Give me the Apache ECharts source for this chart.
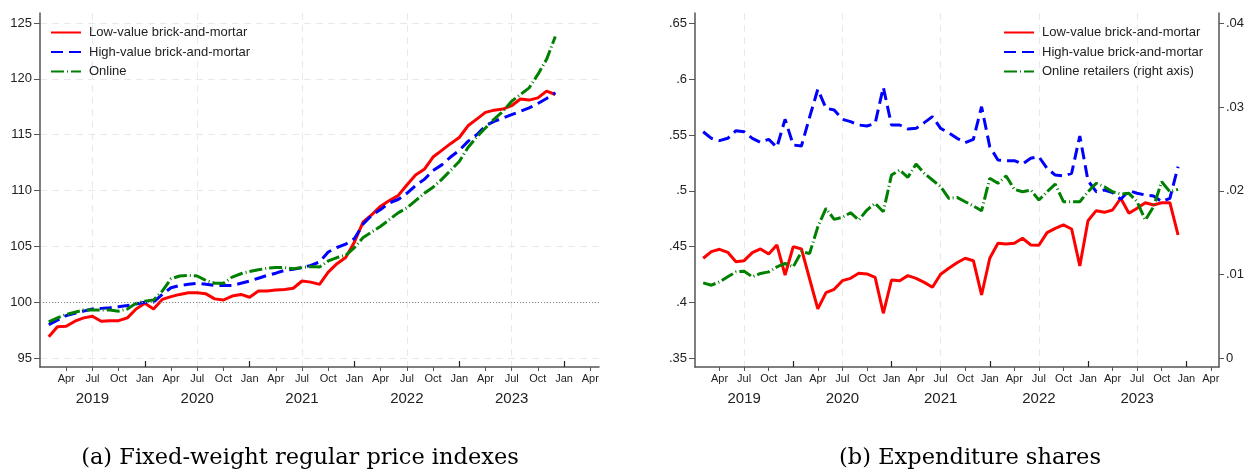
<!DOCTYPE html>
<html>
<head>
<meta charset="utf-8">
<script src="https://cdn.jsdelivr.net/npm/echarts@6/dist/echarts.min.js"></script>
<style>
  html, body { margin: 0; padding: 0; background: #fff; }
  #chart { width: 1248px; height: 472px; }
</style>
</head>
<body>
<div id="chart"></div>
<script>
// months covered by the data, Feb 2019 - Dec 2023
var months = [
  '2019-02','2019-03','2019-04','2019-05','2019-06','2019-07','2019-08','2019-09','2019-10','2019-11','2019-12',
  '2020-01','2020-02','2020-03','2020-04','2020-05','2020-06','2020-07','2020-08','2020-09','2020-10','2020-11','2020-12',
  '2021-01','2021-02','2021-03','2021-04','2021-05','2021-06','2021-07','2021-08','2021-09','2021-10','2021-11','2021-12',
  '2022-01','2022-02','2022-03','2022-04','2022-05','2022-06','2022-07','2022-08','2022-09','2022-10','2022-11','2022-12',
  '2023-01','2023-02','2023-03','2023-04','2023-05','2023-06','2023-07','2023-08','2023-09','2023-10','2023-11','2023-12'
];

// (a) price indexes
var lowIndex = [96.9,97.8,97.85,98.3,98.6,98.75,98.3,98.35,98.35,98.6,99.4,
  99.9,99.4,100.25,100.5,100.7,100.85,100.85,100.75,100.3,100.2,100.55,100.7,
  100.45,101.0,101.0,101.1,101.15,101.25,101.9,101.8,101.6,102.7,103.45,104.0,
  105.4,107.2,107.85,108.6,109.1,109.55,110.5,111.4,111.9,113.0,113.6,114.2,
  114.75,115.8,116.4,117.0,117.2,117.3,117.6,118.2,118.1,118.3,118.9,118.6];
var highIndex = [98.0,98.4,98.8,99.0,99.2,99.4,99.45,99.5,99.6,99.7,99.85,
  100.0,100.0,100.7,101.3,101.5,101.6,101.7,101.6,101.5,101.5,101.5,101.7,
  101.9,102.15,102.4,102.6,102.85,102.95,103.1,103.3,103.6,104.5,104.9,105.2,
  105.7,107.0,107.8,108.3,108.9,109.2,109.75,110.45,111.0,111.8,112.3,113.0,
  113.6,114.4,115.0,115.8,116.2,116.5,116.8,117.1,117.4,117.8,118.25,118.75];
var onlineIndex = [98.25,98.6,98.9,99.1,99.3,99.3,99.3,99.3,99.2,99.4,99.9,
  100.1,100.2,101.0,102.1,102.35,102.4,102.35,101.95,101.7,101.7,102.25,102.55,
  102.75,102.9,103.05,103.1,103.1,103.0,103.1,103.2,103.15,103.7,104.0,104.2,
  104.9,105.8,106.3,106.8,107.4,108.0,108.45,109.1,109.75,110.3,111.0,111.8,
  112.6,113.85,114.8,115.6,116.4,117.1,118.0,118.6,119.2,120.4,121.75,123.8];
var baseLine = 100;

// (b) expenditure shares
var lowShare = [0.4396,0.4455,0.4476,0.4449,0.4365,0.4374,0.4446,0.4479,0.4434,0.4515,0.4246,
  0.4500,0.4479,0.421,0.3942,0.4088,0.4118,0.4195,0.4216,0.4261,0.4255,0.4225,0.3903,
  0.4201,0.4195,0.4240,0.4216,0.4180,0.4136,0.4252,0.4306,0.4356,0.4396,0.4374,0.4067,
  0.4396,0.4530,0.4524,0.4530,0.4575,0.4515,0.4512,0.4625,0.4664,0.4694,0.4658,0.4327,
  0.4732,0.4822,0.4807,0.4828,0.4933,0.4799,0.4843,0.4893,0.4873,0.4893,0.4893,0.4604];
var highShare = [0.5529,0.5470,0.5449,0.5470,0.5538,0.5529,0.5470,0.5434,0.5461,0.5389,0.5640,
  0.5410,0.5401,0.566,0.5909,0.5739,0.5724,0.5640,0.5619,0.5589,0.5580,0.5604,0.5927,
  0.5589,0.5589,0.5553,0.5559,0.5610,0.5664,0.5559,0.5520,0.5470,0.5431,0.5461,0.5753,
  0.5395,0.5276,0.5270,0.5270,0.5240,0.5291,0.5305,0.5201,0.5141,0.5133,0.5157,0.5491,
  0.5090,0.4992,0.5007,0.4983,0.4924,0.5001,0.4978,0.4962,0.4953,0.4902,0.4933,0.5216];
var onlineShare = [0.00903,0.00875,0.00915,0.00975,0.01034,0.01042,0.00975,0.01015,0.01034,0.01094,0.01134,
  0.01094,0.01273,0.01254,0.01571,0.01791,0.01660,0.01684,0.01739,0.01651,0.01771,0.01851,0.01751,
  0.02189,0.02248,0.02161,0.02320,0.02209,0.02129,0.02049,0.01910,0.01922,0.01870,0.01819,0.01762,
  0.02149,0.02090,0.02177,0.02018,0.01989,0.02010,0.01890,0.01989,0.02081,0.01870,0.01870,0.01870,
  0.01989,0.02090,0.02049,0.01989,0.01962,0.01970,0.01870,0.01651,0.01810,0.02109,0.01989,0.02018];

// ticks (months counted from Jan 2019)
var quarterTicks = [3,6,9,12,15,18,21,24,27,30,33,36,39,42,45,48,51,54,57,60,63];
var janTicks = [12,24,36,48,60];
var yearTicks = [6,18,30,42,54];
var indexTicks = [95,100,105,110,115,120,125];
var shareTicks = [0.35,0.4,0.45,0.5,0.55,0.6,0.65];
var onlineTicks = [0,0.01,0.02,0.03,0.04];

var monthNames = ['Jan','Feb','Mar','Apr','May','Jun','Jul','Aug','Sep','Oct','Nov','Dec'];
function toIdx(s) {
  var p = s.split('-');
  return (+p[0] - 2019) * 12 + (+p[1] - 1);
}
function pairs(vals) {
  return vals.map(function (v, i) { return [toIdx(months[i]), v]; });
}
function stripZero(v) {
  var s = String(Math.round(v * 100) / 100);
  return s.replace(/^0\./, '.');
}

var font = 'Liberation Sans';
var axisCol = '#555';
var gridCol = '#e9e9e9';
var red = '#ff0000', blue = '#0000ff', green = '#008000';

function xAxes(grid) {
  return [
    { // month labels
      type: 'value', gridIndex: grid, min: 0, max: 64, position: 'bottom',
      axisLine: { show: true, onZero: false, lineStyle: { color: axisCol, width: 1.5 } },
      axisTick: { show: true, length: 4, lineStyle: { color: axisCol },
        customValues: quarterTicks.filter(function (m) { return m % 12 !== 0; }) },
      axisLabel: { customValues: quarterTicks, margin: 6, fontSize: 11, color: '#222', fontFamily: font,
        formatter: function (v) { return monthNames[Math.round(v) % 12]; } },
      splitLine: { show: false }
    },
    { // year boundaries, ticks inside
      type: 'value', gridIndex: grid, min: 0, max: 64, position: 'bottom',
      axisLine: { show: false, onZero: false },
      axisTick: { show: true, inside: true, length: 6, lineStyle: { color: '#222', width: 1.2 }, customValues: janTicks },
      axisLabel: { show: false },
      splitLine: { show: false }
    },
    { // year labels + Jul grid
      type: 'value', gridIndex: grid, min: 0, max: 64, position: 'bottom',
      axisLine: { show: false, onZero: false },
      axisTick: { show: false, customValues: yearTicks },
      axisLabel: { customValues: yearTicks, margin: 24, fontSize: 15, color: '#222', fontFamily: font,
        formatter: function (v) { return String(2019 + Math.floor(v / 12)); } },
      splitLine: { show: true, lineStyle: { color: gridCol, type: [7, 5], width: 1 } }
    }
  ];
}

function line(name, data, color, dash, xi, yi) {
  return {
    name: name, type: 'line', xAxisIndex: xi, yAxisIndex: yi,
    data: data, symbol: 'none', showSymbol: false,
    lineStyle: { color: color, width: 3, type: dash, cap: 'butt' },
    itemStyle: { color: color }
  };
}

var names = {
  low: 'Low-value brick-and-mortar',
  high: 'High-value brick-and-mortar',
  online: 'Online',
  onlineR: 'Online retailers (right axis)'
};
var dashed = [12, 6];
var dashDot = [13, 3, 1, 3];

var redLeft = line(names.low, pairs(lowIndex), red, 'solid', 0, 0);
redLeft.markLine = {
  silent: true, symbol: 'none', label: { show: false },
  lineStyle: { color: '#888', type: [1, 2], width: 1 },
  data: [{ yAxis: baseLine }]
};

function legend(left, items) {
  return {
    orient: 'vertical', left: left, top: 26, padding: 0,
    itemWidth: 30, itemHeight: 14, itemGap: 6.5,
    itemStyle: { color: 'transparent', borderWidth: 0, opacity: 0 },
    textStyle: { fontSize: 13, color: '#222', fontFamily: font, padding: [0, 0, 0, 3] },
    data: items
  };
}

var option = {
  animation: false,
  backgroundColor: '#fff',
  textStyle: { fontFamily: font },
  grid: [
    { left: 40, right: 649, top: 13, bottom: 105 },
    { left: 695, right: 29, top: 13, bottom: 105 }
  ],
  xAxis: xAxes(0).concat(xAxes(1)),
  yAxis: [
    {
      type: 'value', gridIndex: 0, min: 94.2, max: 125.9, position: 'left',
      axisLine: { show: true, onZero: false, lineStyle: { color: axisCol, width: 1.5 } },
      axisTick: { show: true, length: 6, lineStyle: { color: axisCol }, customValues: indexTicks },
      axisLabel: { customValues: indexTicks, margin: 8, fontSize: 13, color: '#222', fontFamily: font },
      splitLine: { show: true, lineStyle: { color: gridCol, type: [7, 5], width: 1 } }
    },
    {
      type: 'value', gridIndex: 1, min: 0.3422, max: 0.6592, position: 'left',
      axisLine: { show: true, onZero: false, lineStyle: { color: axisCol, width: 1.5 } },
      axisTick: { show: true, length: 6, lineStyle: { color: axisCol }, customValues: shareTicks },
      axisLabel: { customValues: shareTicks, margin: 8, fontSize: 13, color: '#222', fontFamily: font,
        formatter: stripZero },
      splitLine: { show: false }
    },
    {
      type: 'value', gridIndex: 1, min: -0.001, max: 0.0412, position: 'right',
      axisLine: { show: true, onZero: false, lineStyle: { color: axisCol, width: 1.5 } },
      axisTick: { show: true, length: 5, lineStyle: { color: axisCol }, customValues: onlineTicks },
      axisLabel: { customValues: onlineTicks, margin: 7, fontSize: 13, color: '#222', fontFamily: font,
        formatter: stripZero },
      splitLine: { show: false }
    }
  ],
  legend: [
    legend(50, [names.low, names.high, names.online]),
    legend(1003, [names.low, names.high, names.onlineR])
  ],
  graphic: [
    { type: 'text', x: 300, y: 458, style: { text: '(a) Fixed-weight regular price indexes', font: '22.5px "DejaVu Serif"', fill: '#000', align: 'center', verticalAlign: 'middle' } },
    { type: 'text', x: 970, y: 458, style: { text: '(b) Expenditure shares', font: '22.5px "DejaVu Serif"', fill: '#000', align: 'center', verticalAlign: 'middle' } }
  ],
  series: [
    redLeft,
    line(names.high, pairs(highIndex), blue, dashed, 0, 0),
    line(names.online, pairs(onlineIndex), green, dashDot, 0, 0),
    line(names.low, pairs(lowShare), red, 'solid', 3, 1),
    line(names.high, pairs(highShare), blue, dashed, 3, 1),
    line(names.onlineR, pairs(onlineShare), green, dashDot, 3, 2)
  ]
};

var myChart = echarts.init(document.getElementById('chart'));
myChart.setOption(option);
</script>
</body>
</html>
